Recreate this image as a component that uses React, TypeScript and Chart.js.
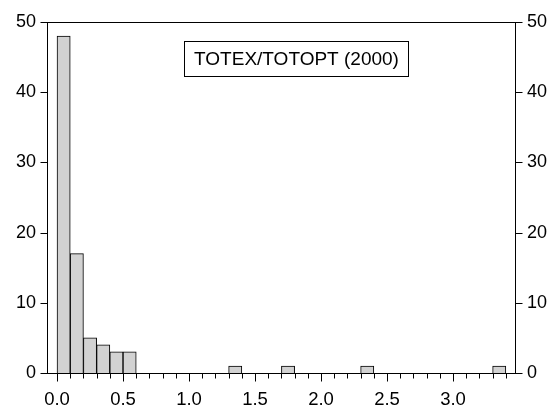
import React, { useEffect, useRef } from "react";
import { Chart, registerables } from "chart.js";

Chart.register(...registerables);

// Histogram bins (start of each 0.1-wide bin) and counts
const binStarts: number[] = [
  0.0, 0.1, 0.2, 0.3, 0.4, 0.5, 0.6, 0.7, 0.8, 0.9,
  1.0, 1.1, 1.2, 1.3, 1.4, 1.5, 1.6, 1.7, 1.8, 1.9,
  2.0, 2.1, 2.2, 2.3, 2.4, 2.5, 2.6, 2.7, 2.8, 2.9,
  3.0, 3.1, 3.2, 3.3,
];
const counts: number[] = [
  48, 17, 5, 4, 3, 3, 0, 0, 0, 0,
  0, 0, 0, 1, 0, 0, 0, 1, 0, 0,
  0, 0, 0, 1, 0, 0, 0, 0, 0, 0,
  0, 0, 0, 1,
];
const binWidth = 0.1;
const xMajorTicks: number[] = [0.0, 0.5, 1.0, 1.5, 2.0, 2.5, 3.0];
const xMinorTicks: number[] = [
  0.0, 0.1, 0.2, 0.3, 0.4, 0.5, 0.6, 0.7, 0.8, 0.9,
  1.0, 1.1, 1.2, 1.3, 1.4, 1.5, 1.6, 1.7, 1.8, 1.9,
  2.0, 2.1, 2.2, 2.3, 2.4, 2.5, 2.6, 2.7, 2.8, 2.9,
  3.0, 3.1, 3.2, 3.3, 3.4,
];
const yTicks: number[] = [0, 10, 20, 30, 40, 50];
const legendLabel = "TOTEX/TOTOPT (2000)";

const FONT = "'Liberation Sans', Arial, sans-serif";

const decorPlugin = {
  id: "decor",
  afterDraw(chart: any) {
    const ctx = chart.ctx;
    const area = chart.chartArea;
    const xs = chart.scales.x;
    const ys = chart.scales.y;
    ctx.save();
    ctx.strokeStyle = "#000";
    ctx.lineWidth = 1;
    const L = Math.round(area.left) + 0.5;
    const R = Math.round(area.right) - 0.5;
    const T = Math.round(area.top) + 0.5;
    const B = Math.round(area.bottom) + 0.5;
    // frame
    ctx.strokeRect(L, T, R - L, B - T);
    ctx.beginPath();
    // x tick marks
    xMinorTicks.forEach((v) => {
      const px = Math.round(xs.getPixelForValue(v)) + 0.5;
      const isMajor = xMajorTicks.some((m) => Math.abs(m - v) < 1e-6);
      ctx.moveTo(px, B);
      ctx.lineTo(px, B + (isMajor ? 8 : 5));
    });
    // y tick marks (both sides)
    yTicks.forEach((v) => {
      const py = Math.round(ys.getPixelForValue(v)) + 0.5;
      ctx.moveTo(L - 7, py);
      ctx.lineTo(L, py);
      ctx.moveTo(R, py);
      ctx.lineTo(R + 7, py);
    });
    ctx.stroke();
    // legend box
    const bx = Math.round(area.left) + 137.5;
    const by = Math.round(area.top) + 19.5;
    const bw = 224;
    const bh = 35;
    ctx.fillStyle = "#fff";
    ctx.fillRect(bx, by, bw, bh);
    ctx.strokeRect(bx, by, bw, bh);
    ctx.fillStyle = "#000";
    ctx.font = `19px ${FONT}`;
    ctx.textAlign = "center";
    ctx.textBaseline = "middle";
    ctx.fillText(legendLabel, bx + bw / 2, by + bh / 2 + 1);
    ctx.restore();
  },
};

export default function App() {
  const ref = useRef<HTMLCanvasElement | null>(null);

  useEffect(() => {
    document.body.style.margin = "0";
    const canvas = ref.current;
    if (!canvas) return;
    const data = binStarts.map((s, i) => ({ x: s + binWidth / 2, y: counts[i] }));
    const chart = new Chart(canvas, {
      type: "bar",
      data: {
        datasets: [
          {
            data: data as any,
            backgroundColor: "#d2d2d2",
            borderColor: "#000",
            borderWidth: 1,
            borderSkipped: "bottom",
            barPercentage: 1,
            categoryPercentage: 1,
            yAxisID: "y",
          },
        ],
      },
      options: {
        animation: false,
        responsive: false,
        maintainAspectRatio: false,
        layout: { padding: { top: 22, left: 0, right: 0, bottom: 0 } },
        plugins: {
          legend: { display: false },
          tooltip: { enabled: false },
          title: { display: false },
        },
        scales: {
          x: {
            type: "linear",
            offset: false,
            min: -0.076,
            max: 3.477,
            afterBuildTicks: (scale: any) => {
              scale.ticks = xMajorTicks.map((v) => ({ value: v }));
            },
            afterFit: (scale: any) => {
              scale.height = 37;
            },
            grid: { display: false, drawTicks: false, offset: false },
            border: { display: false },
            ticks: {
              padding: 16,
              color: "#000",
              font: { family: FONT, size: 18.5 },
              maxRotation: 0,
              autoSkip: false,
              callback: (v: any) => Number(v).toFixed(1),
            },
          },
          y: {
            type: "linear",
            position: "left",
            min: 0,
            max: 50,
            afterBuildTicks: (scale: any) => {
              scale.ticks = yTicks.map((v) => ({ value: v }));
            },
            afterFit: (scale: any) => {
              scale.width = 47;
            },
            grid: { display: false, drawTicks: false },
            border: { display: false },
            ticks: {
              padding: 11,
              color: "#000",
              font: { family: FONT, size: 18 },
            },
          },
          y2: {
            type: "linear",
            position: "right",
            min: 0,
            max: 50,
            afterBuildTicks: (scale: any) => {
              scale.ticks = yTicks.map((v) => ({ value: v }));
            },
            afterFit: (scale: any) => {
              scale.width = 38;
            },
            grid: { display: false, drawTicks: false },
            border: { display: false },
            ticks: {
              padding: 11,
              color: "#000",
              font: { family: FONT, size: 18 },
            },
          },
        },
      } as any,
      plugins: [decorPlugin],
    });
    return () => chart.destroy();
  }, []);

  return (
    <div style={{ width: 554, height: 410, background: "#fff" }}>
      <canvas ref={ref} width={554} height={410} style={{ display: "block" }} />
    </div>
  );
}
